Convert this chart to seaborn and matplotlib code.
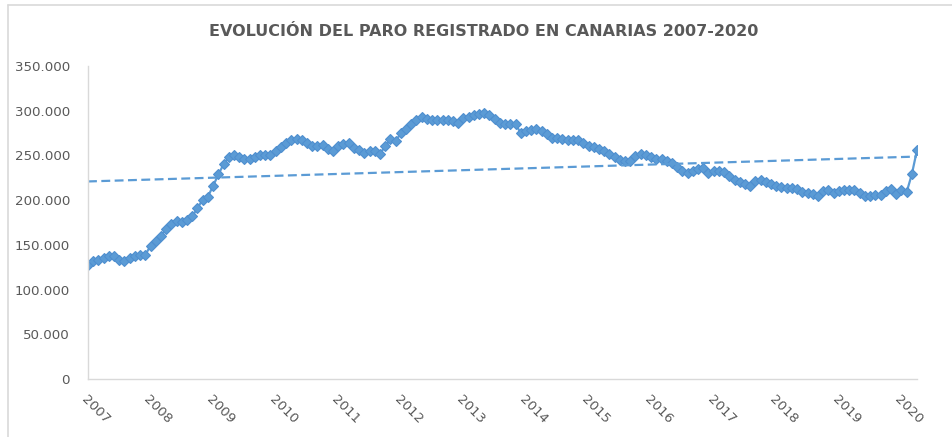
import numpy as np
import pandas as pd
import matplotlib
matplotlib.use('Agg')
import matplotlib.pyplot as plt
import seaborn as sns
from matplotlib.ticker import FuncFormatter, FixedLocator

# Paro registrado mensual en Canarias (miles), ene-2007 a abr-2020
y2007 = [127.8, 131.5, 132.6, 135.0, 137.9, 137.0, 132.6, 131.5, 135.0, 138.0, 139.0, 139.0]
y2008 = [149.0, 154.0, 160.0, 167.8, 173.0, 177.0, 176.0, 178.0, 182.0, 191.0, 200.7, 204.0]
y2009 = [216.0, 228.7, 240.0, 248.0, 251.0, 248.5, 246.0, 246.0, 248.0, 250.0, 250.0, 250.0]
y2010 = [255.0, 259.6, 264.0, 267.5, 268.0, 267.0, 264.0, 261.0, 260.0, 262.0, 256.7, 255.0]
y2011 = [260.0, 263.0, 264.0, 258.5, 255.6, 253.0, 254.8, 254.8, 252.0, 260.0, 268.0, 266.0]
y2012 = [274.7, 280.0, 284.8, 290.0, 293.5, 291.0, 290.0, 289.6, 289.6, 289.6, 289.0, 286.0]
y2013 = [292.0, 293.5, 294.8, 296.5, 297.5, 295.0, 291.0, 286.5, 285.0, 285.0, 285.0, 275.0]
y2014 = [277.0, 278.0, 279.0, 277.0, 273.5, 270.0, 269.7, 268.0, 267.0, 266.8, 267.0, 263.4]
y2015 = [260.4, 259.7, 257.4, 254.8, 252.0, 248.5, 244.7, 243.6, 243.6, 249.0, 252.0, 250.0]
y2016 = [248.5, 246.0, 245.5, 243.6, 241.7, 237.2, 232.4, 229.8, 232.4, 234.3, 236.0, 230.5]
y2017 = [232.4, 232.4, 231.0, 226.8, 223.0, 220.0, 217.5, 215.5, 221.0, 223.0, 220.0, 217.5]
y2018 = [215.5, 214.8, 213.6, 213.6, 212.6, 208.7, 208.0, 207.0, 205.0, 210.0, 211.9, 208.0]
y2019 = [210.0, 211.0, 211.0, 211.0, 208.0, 204.3, 204.3, 206.0, 206.0, 210.0, 212.6, 207.0]
y2020 = [211.9, 208.7, 228.7, 256.0]

years = list(range(2007, 2021))
y_ticks = [0, 50000, 100000, 150000, 200000, 250000, 300000, 350000]

paro = np.array(y2007 + y2008 + y2009 + y2010 + y2011 + y2012 + y2013 + y2014
                + y2015 + y2016 + y2017 + y2018 + y2019 + y2020) * 1000
df = pd.DataFrame({'mes': np.arange(len(paro)), 'paro': paro})

# linear trend like the Excel trendline
coef = np.polyfit(df['mes'], df['paro'], 1)
df['tendencia'] = np.polyval(coef, df['mes'])

sns.set_theme(style='white')
plt.rcParams['font.family'] = ['DejaVu Sans']

blue = '#5B9BD5'
grey_txt = '#595959'
grey_line = '#D9D9D9'

fig = plt.figure(figsize=(9.52, 4.37), dpi=100)
ax = fig.add_axes([88 / 952, 1 - 379 / 437, (917 - 88) / 952, (379 - 66) / 437])

sns.lineplot(data=df, x='mes', y='paro', ax=ax, color=blue, linewidth=1.6,
             marker='D', markersize=5.4, markeredgecolor='#4F8FCF', markeredgewidth=0.8)
sns.lineplot(data=df, x='mes', y='tendencia', ax=ax, color=blue, linewidth=1.6,
             linestyle=(0, (4, 2)))

ax.set_xlim(0, len(paro) - 1)
ax.set_ylim(0, 350000)
ax.set_xlabel('')
ax.set_ylabel('')

ax.xaxis.set_major_locator(FixedLocator([12 * i for i in range(len(years))]))
ax.set_xticklabels([str(y) for y in years])
ax.yaxis.set_major_locator(FixedLocator(y_ticks))
ax.yaxis.set_major_formatter(FuncFormatter(lambda v, p: f'{int(v):,}'.replace(',', '.')))

ax.tick_params(axis='y', length=0, pad=13, labelsize=9.6, labelcolor=grey_txt)
ax.tick_params(axis='x', length=0, pad=10, labelsize=9.6, labelcolor=grey_txt)
for lbl in ax.get_xticklabels():
    lbl.set_rotation(-45)
    lbl.set_ha('left')
    lbl.set_va('top')
    lbl.set_rotation_mode('anchor')

sns.despine(ax=ax, top=True, right=True)
for side in ['left', 'bottom']:
    ax.spines[side].set_color(grey_line)
    ax.spines[side].set_linewidth(1)
ax.grid(False)

fig.text(0.508, 1 - 31 / 437, 'EVOLUCIÓN DEL PARO REGISTRADO EN CANARIAS 2007-2020',
         ha='center', va='center', fontsize=11.5, fontweight='bold', color=grey_txt)

# chart area border (top and left edges visible in the screenshot)
fig.add_artist(plt.Line2D([8 / 952, 1], [1 - 5 / 437, 1 - 5 / 437], transform=fig.transFigure,
                          color=grey_line, linewidth=1.2))
fig.add_artist(plt.Line2D([8 / 952, 8 / 952], [0, 1 - 5 / 437], transform=fig.transFigure,
                          color=grey_line, linewidth=1.2))

fig.savefig('out.png', dpi=100)
